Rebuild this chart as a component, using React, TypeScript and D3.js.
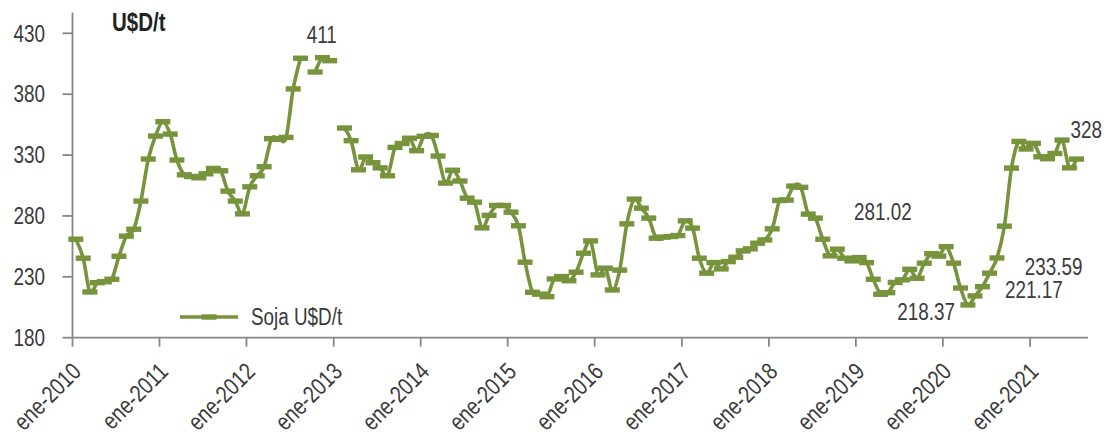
import * as d3 from "d3";

// monthly soy price, USD/t, ene-2010 .. jul-2021 (null = no data)
const years = [2010, 2011, 2012, 2013, 2014, 2015, 2016, 2017, 2018, 2019, 2020, 2021];

const soja: (number | null)[][] = [
  [260.9, 245.3, 217.6, 225.2, 226.0, 228.0, 246.9, 263.4, 269.1, 292.2, 326.7, 345.6],
  [357.4, 347.2, 325.9, 313.8, 312.4, 311.3, 314.6, 319.0, 317.1, 300.4, 292.2, 281.7],
  [303.9, 313.0, 320.4, 343.5, 343.0, 344.5, 384.3, 409.5, null, 398.2, 410.0, 407.5],
  [null, 352.2, 341.8, 317.9, 328.4, 323.7, 319.5, 313.0, 336.3, 339.5, 343.8, 333.6],
  [345.4, 346.1, 329.2, 307.0, 317.5, 308.7, 294.6, 291.3, 270.2, 280.5, 288.6, 288.6],
  [283.1, 271.9, 242.0, 217.3, 215.8, 213.7, 228.2, 230.2, 226.8, 233.8, 249.4, 259.5],
  [231.6, 237.1, 219.2, 235.5, 273.5, 293.8, 286.4, 278.2, 261.7, 262.6, 263.1, 263.9],
  [276.0, 270.0, 245.3, 233.0, 241.7, 236.5, 242.5, 246.1, 251.3, 253.0, 257.6, 260.3],
  [269.4, 292.7, 293.0, 304.5, 303.5, 281.5, 278.2, 260.9, 247.2, 252.7, 245.3, 243.1],
  [245.8, 241.7, 228.0, 215.7, 217.0, 225.4, 227.5, 236.2, 228.8, 241.2, 249.0, 247.0],
  [254.8, 241.2, 220.8, 206.9, 214.3, 221.9, 233.0, 245.5, 271.6, 319.3, 341.2, 335.0],
  [339.6, 328.6, 327.0, 331.3, 342.3, 319.5, 326.7],
];

const yTicks = [180, 230, 280, 330, 380, 430];
const seriesName = "Soja U$D/t";
const unitLabel = "U$D/t";

// data labels as in the original (text, anchor date, anchor value)
const labelTexts = ["411", "281.02", "218.37", "221.17", "233.59", "328"];
const labelDates = [
  new Date(2012, 10, 12),
  new Date(2019, 3, 24),
  new Date(2019, 9, 23),
  new Date(2021, 0, 17),
  new Date(2021, 3, 10),
  new Date(2021, 7, 25),
];
const labelValues = [422.4, 276.8, 194.6, 212.4, 231.6, 344];

type Pt = { date: Date; value: number | null };
const points: Pt[] = soja.flatMap((row, yi) =>
  row.map((v, m) => ({ date: new Date(years[yi], m, 15), value: v }))
);

const W = 1110;
const H = 435;
const GREEN = "#77933C";
const AXIS = "#868686";
const TEXT = "#3a3a3a";
const FONT = "'Liberation Sans', Arial, sans-serif";
const NARROW = 0.82; // squeeze to look like the condensed face of the original

function NText({
  x,
  y,
  rotate = 0,
  anchor = "start",
  size = 23,
  weight = "normal",
  fill = TEXT,
  dy,
  children,
}: {
  x: number;
  y: number;
  rotate?: number;
  anchor?: string;
  size?: number;
  weight?: string;
  fill?: string;
  dy?: string;
  children: React.ReactNode;
}) {
  return (
    <text
      transform={`translate(${x},${y}) rotate(${rotate}) scale(${NARROW},1)`}
      textAnchor={anchor}
      fontSize={size}
      fontWeight={weight}
      fill={fill}
      dy={dy}
    >
      {children}
    </text>
  );
}

export default function App() {
  const x = d3
    .scaleTime()
    .domain([new Date(2010, 0, 1), new Date(2021, 8, 1)])
    .range([72.5, 1088]);
  const y = d3.scaleLinear().domain([180, 430]).range([337.7, 33.3]);

  const line = d3
    .line<Pt>()
    .defined((d) => d.value != null)
    .x((d) => x(d.date))
    .y((d) => y(d.value as number))
    .curve(d3.curveCardinal.tension(0));

  const xTicks = years.map((yr) => new Date(yr, 0, 1));
  const x0 = x.range()[0];
  const y0 = y(180);

  return (
    <svg
      width={W}
      height={H}
      style={{ position: "absolute", left: 0, top: 0, background: "#fff" }}
      fontFamily={FONT}
    >
      {/* axes */}
      <line x1={x0} x2={x0} y1={y(447)} y2={y0} stroke={AXIS} strokeWidth={1.8} />
      <line x1={x0} x2={x.range()[1]} y1={y0} y2={y0} stroke={AXIS} strokeWidth={1.8} />
      {yTicks.map((t) => (
        <g key={t}>
          <line x1={x0 - 10} x2={x0} y1={y(t)} y2={y(t)} stroke={AXIS} strokeWidth={1.8} />
          <NText x={45} y={y(t)} dy="0.36em" anchor="end">
            {t}
          </NText>
        </g>
      ))}
      {xTicks.map((d) => (
        <g key={d.getFullYear()}>
          <line x1={x(d)} x2={x(d)} y1={y0} y2={y0 + 9} stroke={AXIS} strokeWidth={1.8} />
          <NText x={x(d) + 10} y={373} rotate={-45} anchor="end" size={24}>
            {`ene-${d.getFullYear()}`}
          </NText>
        </g>
      ))}

      {/* series */}
      <path d={line(points) ?? ""} fill="none" stroke={GREEN} strokeWidth={3.6} strokeLinejoin="round" />
      {points
        .filter((p) => p.value != null)
        .map((p, i) => (
          <rect
            key={i}
            x={x(p.date) - 7.5}
            y={y(p.value as number) - 2.7}
            width={15}
            height={5.4}
            fill={GREEN}
          />
        ))}

      {/* unit */}
      <NText x={112} y={31} size={25} weight="bold" fill="#222">
        {unitLabel}
      </NText>

      {/* data labels */}
      {labelTexts.map((t, i) => (
        <NText key={t} x={x(labelDates[i])} y={y(labelValues[i])} anchor="middle">
          {t}
        </NText>
      ))}

      {/* legend */}
      <line x1={180} x2={238} y1={317} y2={317} stroke={GREEN} strokeWidth={3.6} />
      <rect x={201.5} y={314.3} width={15} height={5.4} fill={GREEN} />
      <NText x={251} y={325}>
        {seriesName}
      </NText>
    </svg>
  );
}
